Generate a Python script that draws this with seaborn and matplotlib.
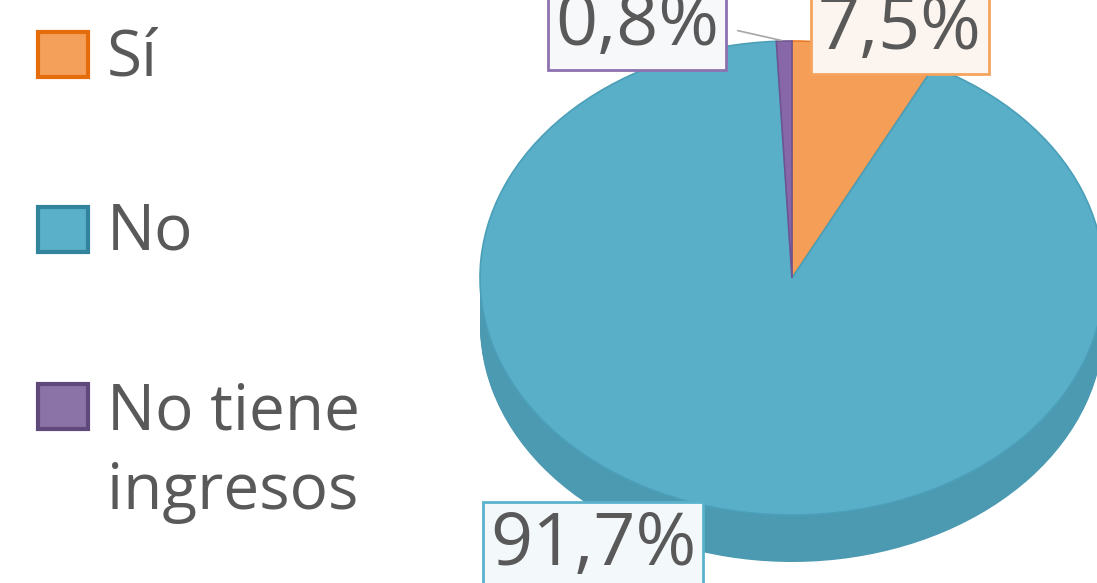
import matplotlib
matplotlib.use("Agg")
import numpy as np
import matplotlib.pyplot as plt
from matplotlib.patches import Rectangle
import seaborn as sns

# data
categories = ["Sí", "No", "No tiene\ningresos"]
shares = [7.5, 91.7, 0.8]
value_labels = ["7,5%", "91,7%", "0,8%"]

# colours
top_colors = sns.color_palette(["#F59E58", "#59AFC8", "#8867A8"])
side_colors = sns.color_palette(["#D9853F", "#4B9AB1", "#6E5490"])
edge_colors = ["#E97A25", "#4B9FB8", "#6E5490"]
legend_face = ["#F5A05A", "#5BB0C9", "#8B72A7"]
legend_edge = ["#E46C0A", "#31849B", "#5F497A"]
box_face = ["#FCF4EE", "#F3F8FA", "#F7F8FA"]
box_edge = ["#F5A45D", "#5AB2CC", "#8E72B0"]
text_color = "#595959"

sns.set_theme(style="white")
plt.rcParams["font.family"] = ["Open Sans", "DejaVu Sans"]

W, H = 1097, 583
fig = plt.figure(figsize=(W / 100, H / 100), dpi=100)
ax = fig.add_axes([0, 0, 1, 1])

# top face ellipse in pixels (y from top)
cx, cy, rx, ry = 792, 278, 312, 237
depth = 47 / ry

# side of the "3D" pie: stacked pies shifted down
n_layers = 30
for k in range(n_layers, 0, -1):
    ax.pie(shares, colors=side_colors, startangle=90, counterclock=False,
           center=(0, -depth * k / n_layers), wedgeprops=dict(linewidth=0))

# top face
wedges, _ = ax.pie(shares, colors=top_colors, startangle=90, counterclock=False,
                   wedgeprops=dict(linewidth=1.2))
for w, ec in zip(wedges, edge_colors):
    w.set_edgecolor(ec)

ax.set_aspect("auto")
ax.set_xlim(-cx / rx, (W - cx) / rx)
ax.set_ylim(-(H - cy) / ry, cy / ry)
ax.axis("off")

# value labels
label_pos = [(900, 30), (593, 546), (637, 26)]
for lab, (px, py), fc, ec in zip(value_labels, label_pos, box_face, box_edge):
    fig.text(px / W, 1 - py / H, lab, ha="center", va="center", fontsize=53,
             color=text_color,
             bbox=dict(boxstyle="square,pad=0.1", facecolor=fc, edgecolor=ec, linewidth=2))

# leader line for the small slice
cum = np.cumsum([0] + shares)
mid = 90 - (cum[2] + shares[2] / 2) / 100 * 360
ax.annotate("", xy=(np.cos(np.radians(mid)), np.sin(np.radians(mid))),
            xytext=(735 / W, 1 - 30 / H), textcoords="figure fraction",
            arrowprops=dict(arrowstyle="-", color="#A6A6A6", lw=1.2))

# legend
sq_top = [32, 207, 384]
for cat, top, fc, ec in zip(categories, sq_top, legend_face, legend_edge):
    fig.add_artist(Rectangle((38 / W, 1 - (top + 45) / H), 50 / W, 45 / H,
                             transform=fig.transFigure, facecolor=fc,
                             edgecolor=ec, linewidth=3))
    # baseline of the last line sits 82 px lower per extra line
    base = top + 43 + 82 * cat.count("\n")
    fig.text(107 / W, 1 - base / H, cat, ha="left", va="baseline",
             fontsize=46, color=text_color, linespacing=1.32)

fig.savefig("out.png", dpi=100)
